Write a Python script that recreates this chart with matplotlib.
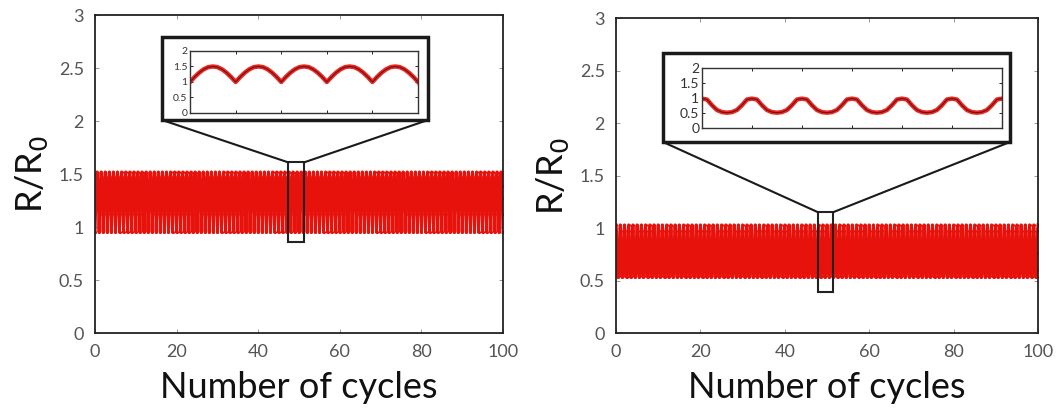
import numpy as np
import matplotlib.pyplot as plt
from matplotlib.patches import Rectangle, ConnectionPatch

plt.rcParams['font.family'] = ['Lato', 'DejaVu Sans']

# one cycle of R/R0 (10 samples per cycle)
left_cycle = [0.95, 1.12, 1.27, 1.39, 1.47, 1.52, 1.47, 1.39, 1.27, 1.12]
right_cycle = [1.03, 0.97, 0.76, 0.6, 0.54, 0.53, 0.54, 0.6, 0.76, 0.97]
inset_left_cycle = [1.0, 1.16, 1.3, 1.41, 1.48, 1.5, 1.48, 1.41, 1.3, 1.16]
inset_right_cycle = [0.98, 0.95, 0.76, 0.6, 0.53, 0.51, 0.53, 0.6, 0.76, 0.95]
n_cycles = 100
left_inset_cycles = 5
right_inset_cycles = 6

# zoom windows drawn on the main plots (x0, x1, y0, y1)
left_window = (47.4, 51.2, 0.86, 1.61)
right_window = (47.9, 51.4, 0.39, 1.15)

main_yticks = [0, 0.5, 1, 1.5, 2, 2.5, 3]
main_xticks = [0, 20, 40, 60, 80, 100]
inset_yticks = [0, 0.5, 1, 1.5, 2]
inset_ylabels = ['0', '0.5', '1', '1.5', '2']

red = '#e8120c'
tick_color = '#555555'


def series(cycle, count):
    vals = np.tile(cycle, count)
    vals = np.append(vals, cycle[0])
    x = np.arange(len(vals)) / len(cycle)
    return x, vals


fig = plt.figure(figsize=(10.57, 4.2), dpi=100)

panels = [
    dict(rect=[0.0899, 0.207, 0.386, 0.757], cycle=left_cycle, window=left_window,
         inset=[0.1798, 0.731, 0.2157, 0.1476], inset_cycle=inset_left_cycle,
         inset_n=left_inset_cycles, box=(162, 37, 428, 120), inset_fs=7.5),
    dict(rect=[0.5828, 0.207, 0.3992, 0.750], cycle=right_cycle, window=right_window,
         inset=[0.6641, 0.6952, 0.2838, 0.1429], inset_cycle=inset_right_cycle,
         inset_n=right_inset_cycles, box=(663, 53, 1010, 142), inset_fs=10),
]

W, H = 1057, 420
for p in panels:
    ax = fig.add_axes(p['rect'])
    x, y = series(p['cycle'], n_cycles)
    ax.plot(x, y, color=red, lw=2.2, marker='o', ms=2.2, mew=0)
    ax.set_xlim(0, 100)
    ax.set_ylim(0, 3)
    ax.set_xticks(main_xticks)
    ax.set_yticks(main_yticks)
    ax.set_yticklabels(['0', '0.5', '1', '1.5', '2', '2.5', '3'])
    ax.tick_params(direction='in', length=3, width=0.6, labelsize=13,
                   labelcolor=tick_color, color='#888888', top=True, right=True, pad=8)
    for s in ax.spines.values():
        s.set_linewidth(1.3)
        s.set_color('#222222')
    ax.set_xlabel('Number of cycles', fontsize=26, labelpad=8, color='#111111')
    ax.set_ylabel('R/R$_0$', fontsize=26, labelpad=6, color='#111111')

    x0, x1, y0, y1 = p['window']
    ax.add_patch(Rectangle((x0, y0), x1 - x0, y1 - y0, fill=False,
                           ec='#222222', lw=1.5, zorder=5))

    bx0, by0, bx1, by1 = p['box']
    fig.patches.append(Rectangle((bx0 / W, 1 - by1 / H), (bx1 - bx0) / W, (by1 - by0) / H,
                                 transform=fig.transFigure, fill=True, fc='white',
                                 ec='#1a1a1a', lw=2.5, zorder=3))
    for xa, xb in [(x0, bx0), (x1, bx1)]:
        con = ConnectionPatch(xyA=(xa, y1), coordsA=ax.transData,
                              xyB=(xb / W, 1 - by1 / H), coordsB=fig.transFigure,
                              color='#1a1a1a', lw=1.5, zorder=4)
        fig.add_artist(con)

    ins = fig.add_axes(p['inset'], zorder=10)
    xi, yi = series(p['inset_cycle'], p['inset_n'])
    ins.plot(xi, yi, color=red, lw=3.2, alpha=0.9)
    ins.plot(xi, yi, color='#7a1010', lw=0.9)
    ins.set_xlim(0, p['inset_n'])
    ins.set_ylim(0, 2)
    ins.set_xticks(range(1, p['inset_n']))
    ins.set_xticklabels([])
    ins.set_yticks(inset_yticks)
    ins.set_yticklabels(inset_ylabels)
    ins.tick_params(direction='in', length=2.5, width=0.6, labelsize=p['inset_fs'],
                    labelcolor='#333333', top=True, right=True, pad=2)
    for s in ins.spines.values():
        s.set_linewidth(1.0)
        s.set_color('#333333')

fig.savefig('out.png', dpi=100)
